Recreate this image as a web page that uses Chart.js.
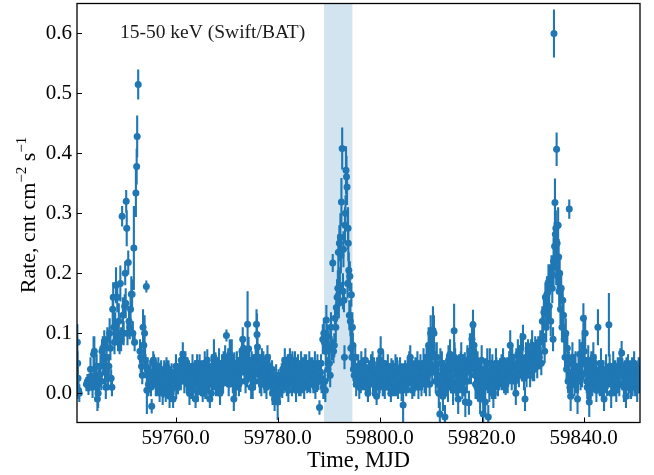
<!DOCTYPE html>
<html>
<head>
<meta charset="utf-8">
<script src="https://cdn.jsdelivr.net/npm/chart.js@4"></script>
<style>
html,body{margin:0;padding:0;background:#fff;}
#wrap{width:654px;height:475px;}
</style>
</head>
<body>
<div id="wrap"><canvas id="c" width="654" height="475"></canvas></div>
<script>
// ---- data ----
const mjd = [
// A
59740.72,59740.78,59740.84,59740.95,59741.1,59742.5,59742.7,59742.9,59743.1,59743.3,
59743.5,59743.7,59743.9,59744.05,59744.2,59744.35,59744.5,59744.65,59744.8,59744.95,
59745.1,59745.25,59745.4,59745.55,59745.7,59745.85,59746.0,59746.15,59746.3,59746.45,
59746.6,59746.75,59746.9,59747.05,59747.2,59747.35,59747.5,
// B
59747.65,59747.75,59747.85,59748.0,59748.15,59748.3,59748.45,59748.55,59748.7,59748.85,
59749.0,59749.15,59749.3,59749.5,59749.65,59749.8,59750.0,59750.1,59750.2,59750.3,
59750.4,59750.55,59750.7,59750.85,59751.0,59751.15,59751.3,59751.45,59751.6,59751.8,
59751.95,59752.2,59752.35,59752.45,59752.65,
// C
59753.0,59753.15,59753.3,59753.45,59753.6,59753.75,59753.9,59754.0,59754.1,59754.25,
59754.35,59754.5,59754.65,59754.8,59755.0,59755.15,59755.3,59755.45,59755.6,59755.75,
59755.9,59756.05,59756.2,59756.35,59756.5,59756.7,59756.85,59757.0,59757.15,59757.3,
59757.45,59757.6,59757.75,59757.9,59758.05,59758.2,59758.35,59758.5,
// D
59758.65,59758.8,59759.0,59759.2,59759.35,59759.5,59759.7,59759.9,59760.1,59760.25,
59760.45,59760.7,59760.9,59761.1,59761.3,59761.5,59761.7,59761.9,59762.1,59762.3,
59762.5,59762.7,59762.9,59763.1,59763.3,59763.5,59763.7,59763.9,59764.1,59764.3,
59764.5,59764.7,59764.9,59765.1,59765.3,59765.5,59765.7,59765.9,59766.1,59766.3,
59766.5,59766.7,59766.9,59767.1,59767.3,59767.5,59767.7,59767.9,59768.1,59768.3,
59768.5,59768.7,59768.9,59769.1,59769.3,59769.5,59769.7,59769.95,59770.2,59770.4,
59770.6,59770.8,59771.0,59771.2,59771.4,59771.6,59771.8,
// E
59772.0,59772.2,59772.4,59772.6,59772.8,59773.0,59773.15,59773.3,59773.5,59773.7,
59773.9,59774.1,59774.3,59774.5,59774.7,59774.9,59775.1,59775.3,59775.5,59775.7,
59775.85,59775.95,59776.05,59776.2,59776.4,59776.6,59776.8,59777.0,59777.2,59777.4,
59777.6,59777.8,59778.0,59778.2,59778.4,59778.6,59778.8,59779.0,59779.2,59779.4,
59779.6,59779.8,59780.0,59780.2,59780.4,59780.6,59780.8,59781.0,59781.2,59781.4,
59781.6,59781.8,59782.0,59782.2,59782.4,59782.6,59782.8,59783.0,59783.2,59783.4,
59783.6,59783.8,59784.0,59784.2,59784.4,59784.6,59784.8,59785.0,59785.2,59785.4,
59785.6,59785.8,59786.0,59786.2,59786.4,59786.6,59786.8,59787.0,59787.2,59787.4,
59787.6,59787.8,59788.0,59788.2,59788.4,59788.6,
// F
59788.85,59788.95,59789.05,59789.15,59789.25,59789.35,59789.45,59789.55,59789.7,59789.85,
59790.0,59790.15,59790.3,59790.45,59790.6,59790.8,59790.95,59791.1,59791.25,59791.4,
59791.5,59791.65,59791.8,59791.9,59792.0,59792.1,59792.2,59792.3,59792.4,59792.5,
59792.65,59792.8,59792.9,59793.0,59793.1,59793.2,59793.3,59793.4,59793.5,59793.6,
59793.7,59793.8,59793.85,59793.95,59794.05,59794.15,59794.25,59794.35,59794.45,59794.55,
59794.65,59794.75,59794.85,
// G
59795.0,59795.2,59795.4,59795.6,59795.8,59796.0,59796.2,59796.4,59796.6,59796.8,
59797.0,59797.2,59797.4,59797.7,59797.9,59798.1,59798.3,59798.5,59798.7,59798.9,
59799.1,59799.4,59799.6,59799.8,59800.0,59800.2,59800.4,59800.6,59800.8,59801.0,
59801.2,59801.4,59801.6,59801.8,59802.0,59802.2,59802.4,59802.6,59802.8,59803.0,
59803.2,59803.4,59803.6,59803.8,59804.0,59804.2,59804.4,59804.6,59804.8,59805.0,
59805.2,59805.4,59805.6,59805.8,59806.0,59806.2,59806.4,59806.6,59806.8,59807.0,
59807.2,59807.4,59807.6,59807.8,59808.0,59808.2,59808.4,59808.6,59808.8,59809.0,
59809.2,59809.4,59809.6,59809.8,59810.0,59810.2,59810.45,59810.65,59810.85,59811.0,
59811.2,59811.4,59811.6,59811.8,59812.0,59812.2,59812.4,59812.6,59812.8,59813.0,
59813.2,59813.4,59813.6,59813.8,59814.0,59814.2,59814.4,59814.6,59814.8,59815.0,
59815.2,59815.4,59815.6,59815.8,59816.0,59816.2,59816.4,59816.6,59816.8,59817.0,
59817.2,59817.5,59817.7,59817.9,59818.1,59818.3,59818.5,59818.7,59818.9,59819.1,
59819.3,59819.5,59819.7,59819.9,59820.1,59820.3,59820.5,59820.7,59820.9,59821.1,
59821.3,59821.5,59821.7,59821.9,59822.1,59822.3,59822.5,59822.7,59822.9,59823.1,
59823.3,59823.5,59823.7,59823.9,59824.2,59824.4,59824.6,59824.8,59825.0,59825.2,
59825.4,59825.6,59825.8,59826.0,59826.2,59826.5,59826.7,59826.9,59827.1,59827.3,
59827.5,59827.7,59827.9,59828.1,59828.3,59828.5,59828.7,59828.9,59829.1,59829.3,
59829.5,59829.7,59829.9,59830.1,59830.3,59830.5,59830.7,59830.9,59831.1,59831.3,
// H
59831.5,59831.7,59831.9,59832.05,59832.2,59832.35,59832.5,59832.65,59832.8,59832.95,
59833.1,59833.25,59833.4,59833.55,59833.7,59833.85,59834.0,59834.1,59834.18,59834.3,
59834.37,59834.45,59834.55,59834.62,59834.7,59834.8,59834.9,59835.0,59835.1,59835.2,
59835.3,59835.45,59835.6,59835.75,59835.9,59836.05,59836.2,59836.35,59836.5,59836.65,
59836.8,59836.95,59837.1,59837.18,59837.3,59837.45,59837.6,59837.8,59838.0,59838.2,
59838.4,59838.6,59838.8,59839.0,59839.2,59839.4,59839.6,59839.8,59839.95,59840.1,
59840.3,59840.5,59840.7,59840.9,59841.1,59841.3,59841.5,59841.7,59841.9,59842.1,
59842.3,59842.5,59842.8,59843.0,59843.2,59843.4,59843.6,59843.8,59844.0,59844.2,
59844.4,59844.6,59844.95,59845.2,59845.4,59845.6,59845.8,59846.0,59846.2,59846.4,
59846.6,59846.8,59847.0,59847.2,59847.45,59847.7,59847.9,59848.1,59848.3,59848.5,
59848.7,59848.9,59849.1,59849.3,59849.5,59849.7,59849.9,59850.1,59850.3,59850.5,
59850.7,59850.9,
// I (further baseline readings)
59755.55,59756.1,59756.6,59757.05,59757.55,59758.1,59758.6,59759.1,59759.6,59760.05,
59760.55,59761.0,59761.4,59761.8,59762.2,59762.6,59763.0,59763.4,59763.8,59764.2,
59764.6,59765.0,59765.4,59765.8,59766.2,59766.6,59767.0,59767.4,59767.8,59768.2,
59768.6,59769.0,59769.4,59769.8,59770.3,59770.7,59771.1,59771.5,59771.9,59772.3,
59772.7,59773.1,59773.6,59774.0,59774.4,59774.8,59775.2,59775.6,59776.1,59776.5,
59776.9,59777.3,59777.7,59778.1,59778.5,59778.9,59779.3,59779.7,59780.1,59780.5,
59780.9,59781.3,59781.7,59782.1,59782.5,59782.9,59783.3,59783.7,59784.1,59784.5,
59784.9,59785.3,59785.7,59786.1,59786.5,59786.9,59787.3,59787.7,59788.1,59788.5,
59795.1,59795.5,59795.9,59796.3,59796.7,59797.1,59797.5,59797.8,59798.2,59798.6,
59799.0,59799.5,59799.9,59800.3,59800.7,59801.1,59801.5,59801.9,59802.3,59802.7,
59803.1,59803.5,59803.9,59804.3,59804.7,59805.1,59805.5,59805.9,59806.3,59806.7,
59807.1,59807.5,59807.9,59808.3,59808.7,59809.1,59809.5,59809.9,59810.3,59810.75,
59811.1,59811.5,59811.9,59812.3,59812.7,59813.1,59813.5,59813.9,59814.3,59814.7,
59815.1,59815.5,59815.9,59816.3,59816.7,59817.1,59817.6,59818.0,59818.4,59818.8,
59819.2,59819.6,59820.0,59820.4,59820.8,59821.2,59821.6,59822.0,59822.4,59822.8,
59823.2,59823.6,59824.0,59824.3,59824.7,59825.1,59825.5,59825.9,59826.3,59826.8,
59827.2,59827.6,59828.0,59828.4,59828.8,59829.2,59829.6,59830.0,59830.4,59830.8,
59837.7,59838.1,59838.5,59838.9,59839.3,59839.7,59840.2,59840.6,59841.0,59841.4,
59841.8,59842.2,59842.6,59843.1,59843.5,59843.9,59844.3,59844.7,59845.1,59845.5,
59845.9,59846.3,59846.7,59847.1,59847.6,59848.0,59848.4,59848.8,59849.2,59849.6,
59850.0,59850.4,59850.8
];

const rate = [
// A
0.085,0.05,0.025,0.005,0.0,0.015,0.02,0.012,0.018,0.04,
0.02,0.01,0.065,0.07,0.03,0.015,0.045,-0.01,0.0,0.02,
0.03,0.045,0.02,0.07,0.075,0.05,0.08,0.035,0.01,0.06,
0.09,0.025,0.045,0.1,0.075,0.025,0.01,
// B
0.14,0.16,0.11,0.085,0.11,0.18,0.1,0.16,0.09,0.12,
0.085,0.183,0.09,0.295,0.13,0.1,0.145,0.2,0.15,0.32,
0.275,0.1,0.218,0.12,0.11,0.14,0.165,0.165,0.1,0.242,
0.085,0.334,0.378,0.428,0.515,
// C
0.07,0.06,0.045,0.03,0.11,0.08,0.1,0.055,0.045,0.178,
0.005,0.04,0.015,0.03,0.035,0.01,-0.022,0.035,0.055,0.05,
0.025,0.04,0.02,0.03,0.01,0.025,0.005,0.02,0.035,0.015,
0.0,0.02,0.04,0.025,0.0,0.045,0.03,0.01,
// D
0.03,-0.005,0.02,0.035,0.01,-0.01,0.025,0.03,0.01,0.035,
0.01,0.02,0.04,0.055,0.04,0.05,0.02,0.055,0.03,0.045,
0.015,0.0,0.035,0.01,0.045,0.02,0.03,-0.01,0.025,0.005,
0.03,0.045,0.015,0.035,0.0,0.02,0.05,0.03,0.01,0.04,
0.02,-0.01,0.03,0.045,0.02,0.06,0.035,0.01,0.04,0.025,
0.05,0.0,0.03,0.045,0.02,0.04,0.06,0.096,0.04,0.015,
0.065,0.03,0.06,0.02,-0.01,0.035,0.01,
// E
0.05,0.03,0.015,0.055,0.035,0.07,0.09,0.075,0.04,0.02,
0.055,0.115,0.074,0.04,0.025,0.045,0.01,0.035,0.02,0.06,
0.115,0.098,0.077,0.06,0.03,0.045,0.015,0.035,0.05,0.02,
0.04,0.01,0.06,0.03,0.045,0.015,0.025,0.0,0.02,-0.01,
0.015,0.005,-0.015,0.02,0.0,0.01,0.03,0.04,0.02,0.055,
0.03,0.01,0.045,0.025,0.06,0.035,0.015,0.04,0.02,0.05,
0.005,0.03,0.045,0.015,0.035,0.05,0.02,0.04,0.01,0.03,
0.045,0.02,0.035,0.05,0.015,0.03,0.04,0.02,0.035,0.01,
0.03,0.045,0.02,-0.024,0.035,0.02,
// F
0.09,0.01,0.1,0.085,0.02,0.005,0.07,0.122,0.095,0.04,
0.08,0.05,0.03,0.11,0.075,0.217,0.07,0.08,0.125,0.11,
0.143,0.16,0.175,0.235,0.15,0.25,0.18,0.26,0.23,0.319,
0.408,0.17,0.24,0.155,0.06,0.28,0.3,0.372,0.361,0.344,
0.183,0.275,0.25,0.205,0.13,0.195,0.12,0.075,0.164,0.06,
0.11,0.08,0.04,
// G
0.03,0.06,0.015,0.035,0.045,0.01,0.03,0.05,0.02,0.04,
0.025,0.055,0.01,0.0,0.035,0.02,0.045,0.03,0.015,0.04,
0.025,-0.005,0.03,0.045,0.02,0.07,0.035,0.015,0.03,0.01,
0.035,0.02,0.045,0.01,0.025,0.0,0.02,0.035,0.01,0.03,
0.015,0.04,0.005,0.025,0.04,0.015,0.03,-0.02,0.02,0.035,
0.01,0.03,0.02,0.045,0.06,0.025,0.005,0.035,0.015,0.04,
0.02,0.05,0.01,0.03,0.045,0.015,0.035,0.05,0.02,0.04,
0.06,0.03,0.08,0.015,0.1,0.07,0.105,0.1,0.045,0.02,
0.06,0.03,0.0,-0.035,0.025,0.05,-0.005,0.035,-0.04,0.02,
0.045,0.01,0.03,0.065,0.02,0.04,0.005,0.104,0.05,0.015,
0.035,-0.01,0.045,0.025,0.06,0.01,0.04,0.02,-0.015,0.035,
0.055,-0.016,0.07,0.04,0.09,0.114,0.08,0.03,0.05,0.01,
0.035,0.02,-0.01,0.04,0.015,-0.035,0.03,-0.015,0.025,0.05,
-0.04,0.01,0.035,0.02,0.045,0.0,0.03,0.015,0.04,0.025,
0.035,0.02,0.03,0.045,0.055,0.02,0.035,0.025,0.04,0.03,
0.05,0.08,0.035,0.06,0.045,0.02,0.0,0.04,0.065,0.03,
0.05,0.075,0.04,0.094,0.025,-0.01,0.06,0.045,0.07,0.05,
0.03,0.065,0.08,0.055,0.04,0.07,0.06,0.045,0.075,0.06,
// H
0.085,0.05,0.12,0.095,0.135,0.07,0.16,0.11,0.165,0.13,
0.185,0.145,0.19,0.12,0.2,0.175,0.09,0.22,0.6,0.245,
0.318,0.265,0.275,0.21,0.407,0.25,0.195,0.28,0.227,0.17,
0.2,0.14,0.175,0.11,0.155,0.13,0.09,0.06,0.1,0.04,
0.075,0.02,0.05,0.307,0.01,-0.005,0.035,0.06,0.03,0.015,
0.045,0.02,-0.01,0.04,0.065,0.025,0.05,0.08,0.125,0.07,
0.1,0.035,0.01,0.055,-0.015,0.03,0.045,0.015,0.06,0.025,
0.04,0.005,0.11,0.035,0.02,0.05,0.01,0.03,-0.01,0.02,
0.04,0.015,0.114,0.03,0.0,0.025,0.045,0.015,0.035,0.005,
0.025,0.04,0.015,0.05,0.067,0.03,0.01,0.035,-0.005,0.025,
0.045,0.02,0.035,0.01,0.04,0.025,0.05,0.015,0.03,0.005,
0.035,0.02,
// I
0.03,0.015,0.045,0.03,0.01,0.02,0.04,0.005,0.015,0.045,
0.03,0.02,0.065,0.035,0.02,0.04,0.025,0.005,0.035,0.05,
0.015,0.025,0.04,0.01,0.055,0.03,0.0,0.035,0.05,0.015,
0.035,0.015,0.05,0.03,0.055,0.045,0.035,0.05,0.03,0.045,
0.02,0.05,0.06,0.03,0.055,0.01,0.05,0.035,0.045,0.02,
0.055,0.035,0.02,0.045,0.03,0.04,0.01,0.03,0.0,0.02,
0.01,0.035,0.045,0.005,0.03,0.05,0.03,0.04,0.025,0.015,
0.03,0.05,0.025,0.02,0.04,0.03,0.05,0.02,0.035,0.05,
0.045,0.025,0.03,0.015,0.035,0.04,0.03,0.02,0.03,0.05,
0.015,0.04,0.01,0.04,0.05,0.025,0.035,0.03,0.04,0.02,
0.045,0.025,0.035,0.005,0.03,0.02,0.04,0.03,0.04,0.025,
0.03,0.035,0.02,0.025,0.035,0.015,0.045,0.05,0.035,0.06,
0.04,0.015,0.05,0.02,0.01,0.035,0.055,0.03,0.02,0.06,
0.03,0.02,0.045,0.03,0.05,0.02,0.04,0.06,0.045,0.015,
0.05,0.03,0.055,0.01,0.04,0.02,0.05,0.01,0.035,0.05,
0.015,0.04,0.03,0.04,0.015,0.02,0.045,0.025,0.035,0.05,
0.045,0.06,0.055,0.04,0.03,0.06,0.045,0.04,0.055,0.07,
0.015,0.045,0.035,0.02,0.045,0.03,0.05,0.02,0.04,0.01,
0.035,0.05,0.02,0.015,0.03,0.02,0.035,0.025,0.045,0.015,
0.03,0.02,0.045,0.03,0.04,0.02,0.045,0.01,0.03,0.015,
0.035,0.025,0.04
];

const rateErr = [
// A
0.03,0.02,0.02,0.015,0.015,0.012,0.012,0.015,0.015,0.02,
0.015,0.018,0.03,0.025,0.02,0.02,0.02,0.02,0.025,0.02,
0.02,0.02,0.015,0.02,0.02,0.02,0.025,0.02,0.02,0.02,
0.02,0.02,0.02,0.025,0.02,0.015,0.015,
// B
0.025,0.025,0.025,0.02,0.025,0.03,0.02,0.025,0.02,0.03,
0.02,0.03,0.02,0.017,0.03,0.02,0.02,0.02,0.025,0.019,
0.03,0.02,0.02,0.025,0.02,0.02,0.03,0.025,0.02,0.07,
0.015,0.04,0.03,0.035,0.025,
// C
0.02,0.025,0.02,0.015,0.03,0.025,0.03,0.02,0.02,0.01,
0.04,0.02,0.02,0.015,0.02,0.015,0.012,0.02,0.015,0.015,
0.015,0.02,0.02,0.015,0.015,0.015,0.02,0.015,0.02,0.015,
0.02,0.02,0.015,0.02,0.015,0.015,0.02,0.015,
// D
0.015,0.02,0.015,0.015,0.02,0.015,0.015,0.015,0.02,0.015,
0.012,0.015,0.02,0.015,0.02,0.015,0.02,0.015,0.02,0.015,
0.02,0.02,0.015,0.02,0.02,0.015,0.02,0.015,0.02,0.02,
0.015,0.02,0.015,0.02,0.015,0.02,0.02,0.015,0.02,0.015,
0.02,0.015,0.02,0.02,0.015,0.03,0.02,0.015,0.02,0.015,
0.025,0.02,0.015,0.02,0.02,0.02,0.02,0.01,0.02,0.02,
0.025,0.02,0.03,0.02,0.02,0.02,0.015,
// E
0.02,0.02,0.02,0.02,0.015,0.025,0.02,0.02,0.02,0.02,
0.02,0.055,0.02,0.02,0.015,0.025,0.02,0.02,0.015,0.02,
0.025,0.035,0.02,0.02,0.02,0.02,0.02,0.02,0.02,0.02,
0.015,0.02,0.02,0.02,0.02,0.02,0.02,0.02,0.02,0.02,
0.015,0.02,0.03,0.02,0.02,0.015,0.02,0.02,0.02,0.02,
0.02,0.015,0.02,0.02,0.015,0.02,0.02,0.02,0.015,0.02,
0.02,0.02,0.02,0.02,0.015,0.02,0.02,0.02,0.02,0.015,
0.02,0.02,0.02,0.02,0.015,0.02,0.02,0.02,0.015,0.02,
0.02,0.02,0.015,0.012,0.02,0.02,
// F
0.025,0.02,0.025,0.02,0.02,0.02,0.025,0.025,0.02,0.02,
0.025,0.02,0.02,0.025,0.02,0.015,0.02,0.02,0.02,0.025,
0.025,0.03,0.03,0.03,0.025,0.03,0.03,0.04,0.03,0.04,
0.035,0.03,0.03,0.02,0.02,0.03,0.03,0.04,0.035,0.03,
0.025,0.035,0.03,0.03,0.025,0.025,0.025,0.02,0.02,0.02,
0.025,0.02,0.02,
// G
0.02,0.02,0.02,0.015,0.02,0.02,0.02,0.02,0.015,0.02,
0.02,0.02,0.015,0.015,0.02,0.02,0.02,0.015,0.02,0.02,
0.02,0.015,0.02,0.02,0.02,0.025,0.02,0.02,0.015,0.02,
0.02,0.015,0.02,0.015,0.02,0.015,0.02,0.02,0.015,0.02,
0.02,0.02,0.015,0.02,0.02,0.015,0.02,0.03,0.02,0.02,
0.015,0.02,0.02,0.025,0.02,0.02,0.015,0.02,0.02,0.02,
0.015,0.02,0.02,0.02,0.02,0.02,0.02,0.025,0.02,0.025,
0.02,0.02,0.03,0.02,0.03,0.025,0.04,0.03,0.025,0.02,
0.025,0.02,0.025,0.02,0.025,0.02,0.025,0.02,0.02,0.025,
0.02,0.025,0.02,0.025,0.02,0.025,0.025,0.045,0.025,0.02,
0.025,0.025,0.02,0.025,0.025,0.02,0.025,0.025,0.025,0.02,
0.025,0.02,0.03,0.025,0.03,0.025,0.04,0.02,0.025,0.02,
0.025,0.025,0.025,0.02,0.025,0.02,0.025,0.025,0.02,0.025,
0.02,0.025,0.02,0.025,0.02,0.025,0.02,0.025,0.02,0.02,
0.02,0.015,0.02,0.02,0.02,0.02,0.02,0.015,0.02,0.02,
0.02,0.025,0.02,0.02,0.02,0.02,0.02,0.02,0.025,0.02,
0.02,0.025,0.02,0.02,0.02,0.02,0.025,0.02,0.02,0.02,
0.02,0.025,0.025,0.02,0.02,0.025,0.02,0.02,0.02,0.02,
// H
0.02,0.02,0.025,0.02,0.025,0.02,0.025,0.025,0.03,0.025,
0.03,0.025,0.025,0.025,0.03,0.025,0.02,0.04,0.04,0.04,
0.04,0.03,0.03,0.03,0.028,0.035,0.03,0.03,0.03,0.025,
0.025,0.025,0.025,0.025,0.02,0.02,0.025,0.02,0.025,0.02,
0.025,0.02,0.02,0.016,0.02,0.025,0.02,0.025,0.02,0.02,
0.025,0.02,0.025,0.02,0.025,0.02,0.025,0.025,0.025,0.025,
0.03,0.025,0.02,0.025,0.025,0.02,0.025,0.02,0.025,0.02,
0.025,0.02,0.03,0.02,0.025,0.025,0.02,0.025,0.02,0.02,
0.025,0.02,0.053,0.02,0.025,0.02,0.025,0.02,0.02,0.02,
0.02,0.02,0.02,0.025,0.02,0.02,0.025,0.02,0.02,0.02,
0.02,0.02,0.02,0.02,0.02,0.02,0.02,0.02,0.02,0.02,
0.02,0.02,
// I
0.018,0.02,0.015,0.02,0.018,0.02,0.015,0.02,0.018,0.02,
0.02,0.015,0.02,0.018,0.02,0.015,0.02,0.018,0.02,0.015,
0.018,0.02,0.015,0.02,0.018,0.02,0.015,0.02,0.018,0.02,
0.02,0.015,0.02,0.018,0.02,0.015,0.02,0.018,0.02,0.015,
0.018,0.02,0.015,0.02,0.018,0.02,0.015,0.02,0.018,0.02,
0.02,0.015,0.02,0.018,0.02,0.015,0.02,0.018,0.02,0.015,
0.018,0.02,0.015,0.02,0.018,0.02,0.015,0.02,0.018,0.02,
0.02,0.015,0.02,0.018,0.02,0.015,0.02,0.018,0.02,0.015,
0.02,0.018,0.02,0.015,0.02,0.02,0.018,0.02,0.015,0.02,
0.018,0.02,0.015,0.02,0.018,0.02,0.015,0.02,0.018,0.02,
0.02,0.015,0.02,0.018,0.02,0.015,0.02,0.018,0.02,0.015,
0.018,0.02,0.015,0.02,0.018,0.02,0.015,0.02,0.018,0.025,
0.02,0.018,0.025,0.02,0.018,0.02,0.025,0.02,0.018,0.025,
0.02,0.018,0.025,0.02,0.018,0.02,0.025,0.02,0.018,0.025,
0.02,0.018,0.025,0.02,0.018,0.02,0.025,0.02,0.018,0.025,
0.02,0.018,0.025,0.02,0.018,0.02,0.025,0.02,0.018,0.025,
0.02,0.02,0.02,0.02,0.02,0.02,0.02,0.02,0.02,0.02,
0.018,0.02,0.015,0.02,0.018,0.02,0.015,0.02,0.018,0.02,
0.02,0.015,0.02,0.018,0.02,0.015,0.02,0.018,0.02,0.015,
0.018,0.02,0.015,0.02,0.018,0.02,0.015,0.02,0.018,0.02,
0.02,0.018,0.02
];

const xTicks = [59760, 59780, 59800, 59820, 59840];
const yTicks = [0.0, 0.1, 0.2, 0.3, 0.4, 0.5, 0.6];
const xRange = [59740.65, 59851.05];
const yRange = [-0.049, 0.65];
const shadeRange = [59789.1, 59794.65];
const bandLabel = '15-50 keV (Swift/BAT)';
const xTitle = 'Time, MJD';
const yTitleParts = [['Rate, cnt cm', false], ['\u22122', true], [' s', false], ['\u22121', true]];

// ---- chart ----
const C0 = '#1f77b4';
const FONT = "'Liberation Serif', 'DejaVu Serif', serif";
const n = Math.min(mjd.length, rate.length, rateErr.length);
const points = [];
for (let i = 0; i < n; i++) points.push({x: mjd[i], y: rate[i]});

const decor = {
  id: 'decor',
  beforeDatasetsDraw(chart) {
    const {ctx, chartArea: a, scales: {x, y}} = chart;
    ctx.save();
    ctx.beginPath();
    ctx.rect(a.left, a.top, a.right - a.left, a.bottom - a.top);
    ctx.clip();
    const x1 = x.getPixelForValue(shadeRange[0]);
    const x2 = x.getPixelForValue(shadeRange[1]);
    ctx.fillStyle = 'rgba(31,119,180,0.2)';
    ctx.fillRect(x1, a.top, x2 - x1, a.bottom - a.top);
    ctx.strokeStyle = C0;
    ctx.lineWidth = 2.1;
    ctx.beginPath();
    for (let i = 0; i < n; i++) {
      const px = x.getPixelForValue(mjd[i]);
      ctx.moveTo(px, y.getPixelForValue(rate[i] - rateErr[i]));
      ctx.lineTo(px, y.getPixelForValue(rate[i] + rateErr[i]));
    }
    ctx.stroke();
    ctx.restore();
  },
  afterDraw(chart) {
    const {ctx, chartArea: a, scales: {x, y}} = chart;
    ctx.save();
    ctx.strokeStyle = '#000';
    ctx.lineWidth = 1;
    ctx.beginPath();
    xTicks.forEach(v => {
      const px = Math.round(x.getPixelForValue(v)) + 0.5;
      ctx.moveTo(px, a.bottom); ctx.lineTo(px, a.bottom - 5);
    });
    yTicks.forEach(v => {
      const py = Math.round(y.getPixelForValue(v)) + 0.5;
      ctx.moveTo(a.left, py); ctx.lineTo(a.left + 5, py);
    });
    ctx.stroke();
    ctx.lineWidth = 1.3;
    ctx.strokeRect(a.left, a.top, a.right - a.left, a.bottom - a.top);
    // annotation
    ctx.fillStyle = '#1a1a1a';
    ctx.font = '19.5px ' + FONT;
    ctx.textBaseline = 'alphabetic';
    ctx.textAlign = 'left';
    ctx.fillText(bandLabel, a.left + 43, a.top + 34);
    // y-axis title with superscripts
    const big = '22px ' + FONT, small = '15px ' + FONT;
    let total = 0;
    yTitleParts.forEach(([t, sup]) => { ctx.font = sup ? small : big; total += ctx.measureText(t).width; });
    ctx.translate(35, (a.top + a.bottom) / 2 + 2);
    ctx.rotate(-Math.PI / 2);
    ctx.fillStyle = '#000';
    let cx = -total / 2;
    yTitleParts.forEach(([t, sup]) => {
      ctx.font = sup ? small : big;
      ctx.fillText(t, cx, sup ? -9 : 0);
      cx += ctx.measureText(t).width;
    });
    ctx.restore();
  }
};

new Chart(document.getElementById('c'), {
  type: 'scatter',
  data: {
    datasets: [{
      data: points,
      pointRadius: 3.5,
      pointHoverRadius: 3.5,
      pointBackgroundColor: C0,
      pointBorderColor: C0,
      pointBorderWidth: 0,
      showLine: false
    }]
  },
  options: {
    responsive: false,
    animation: false,
    devicePixelRatio: 1,
    events: [],
    layout: {padding: {left: 0, right: 14, top: 3.5, bottom: 0}},
    plugins: {legend: {display: false}, tooltip: {enabled: false}},
    scales: {
      x: {
        type: 'linear',
        min: xRange[0], max: xRange[1],
        grid: {display: false, drawTicks: false},
        border: {display: false},
        afterBuildTicks: s => { s.ticks = xTicks.map(v => ({value: v})); },
        afterFit: s => { s.height = 52.5; s.paddingLeft = 0; s.paddingRight = 0; },
        ticks: {
          font: {family: FONT, size: 21}, color: '#000', padding: 3,
          maxRotation: 0, autoSkip: false,
          callback: v => Number(v).toFixed(1)
        },
        title: {display: true, text: xTitle, color: '#000',
                font: {family: FONT, size: 22.5, lineHeight: 1.2},
                padding: {top: 0, bottom: 0}}
      },
      y: {
        type: 'linear',
        min: yRange[0], max: yRange[1],
        grid: {display: false, drawTicks: false},
        border: {display: false},
        afterBuildTicks: s => { s.ticks = yTicks.map(v => ({value: v})); },
        afterFit: s => { s.width = 77; s.paddingTop = 0; s.paddingBottom = 0; },
        ticks: {
          font: {family: FONT, size: 21}, color: '#000', padding: 5,
          autoSkip: false,
          callback: v => Number(v).toFixed(1)
        },
        title: {display: false}
      }
    }
  },
  plugins: [decor]
});
</script>
</body>
</html>
